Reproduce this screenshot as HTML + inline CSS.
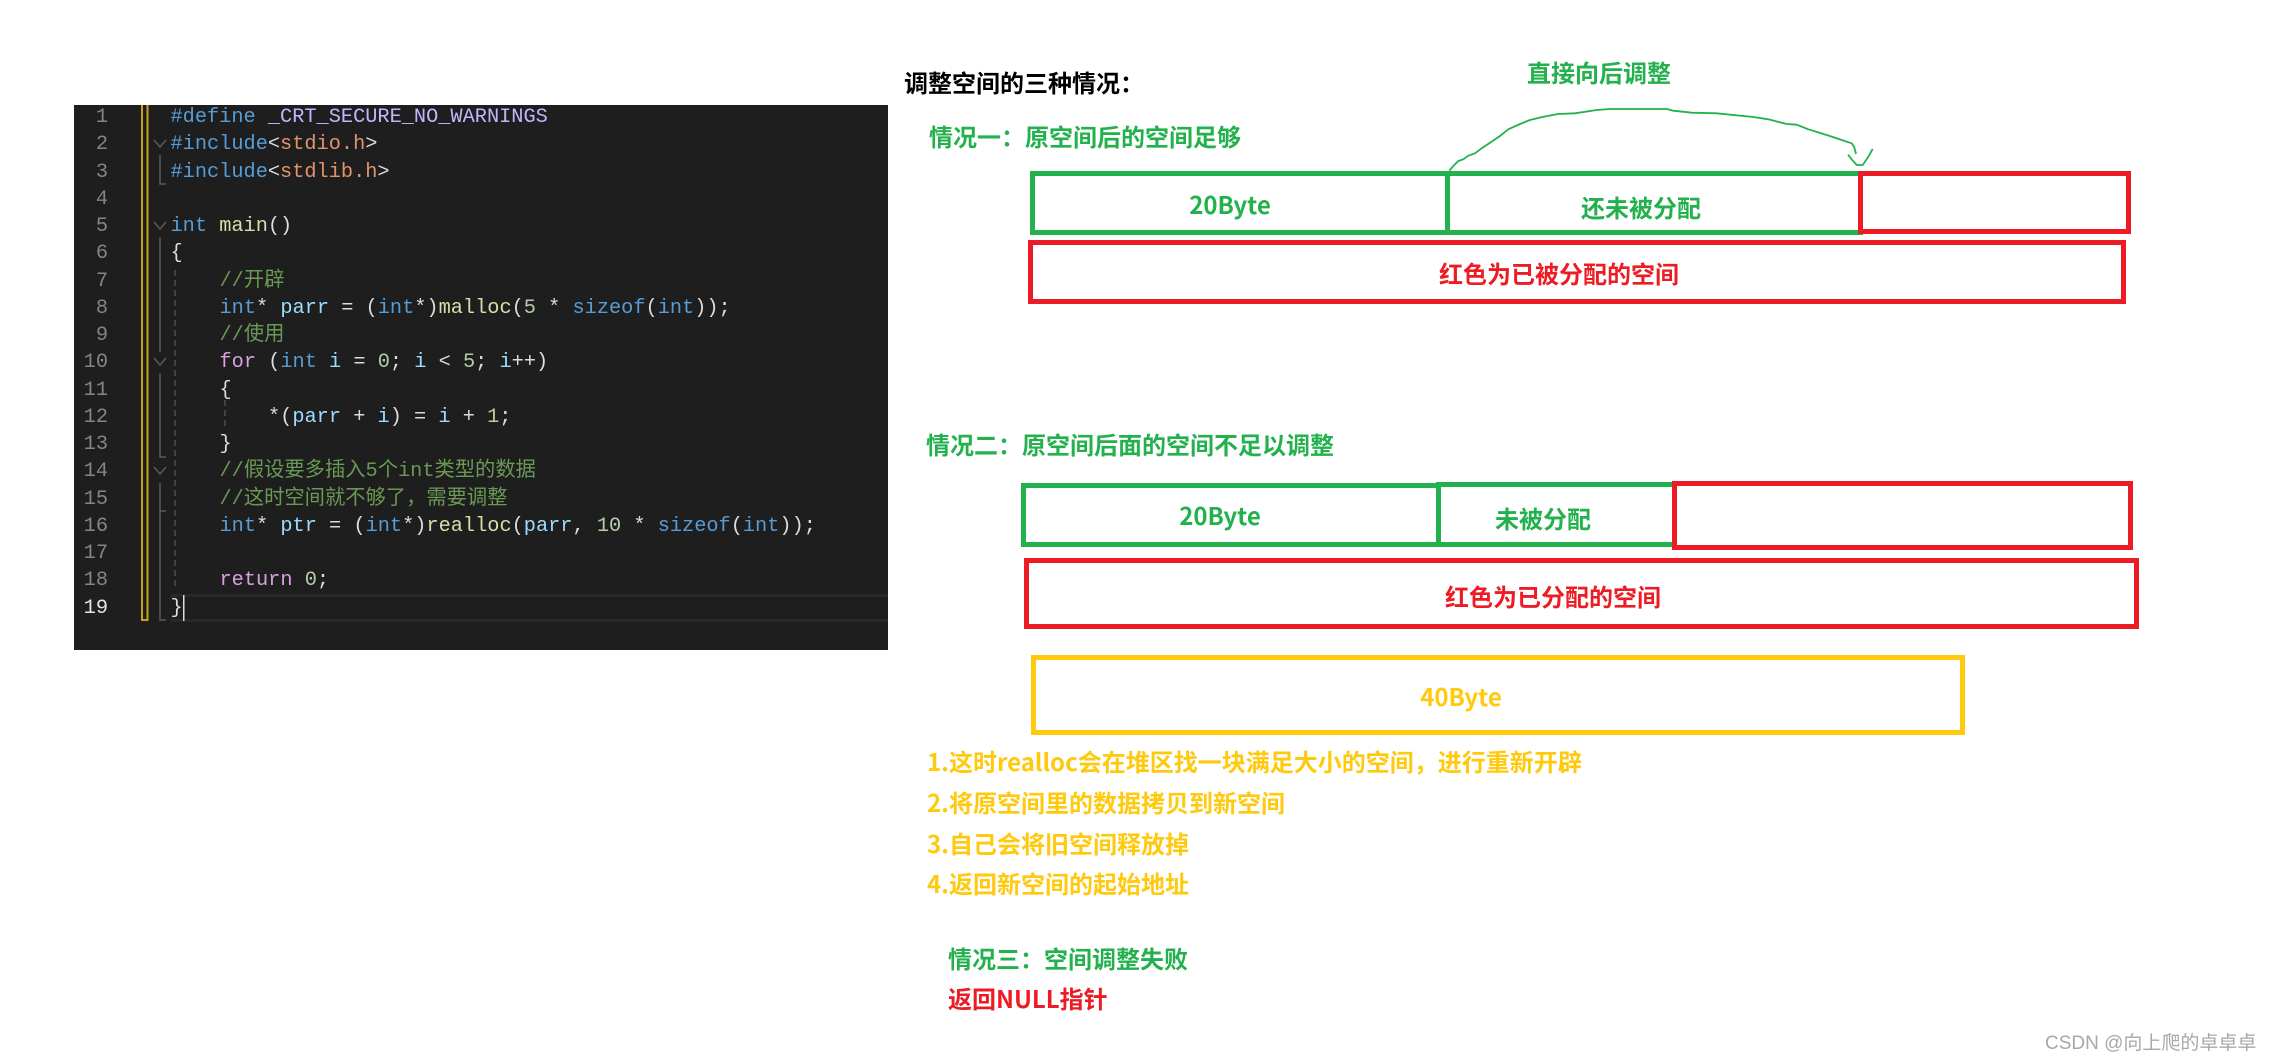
<!DOCTYPE html>
<html lang="zh">
<head>
<meta charset="utf-8">
<title>realloc</title>
<style>
html,body{margin:0;padding:0;background:#fff;width:2272px;height:1061px;overflow:hidden}
svg{display:block}
.c text,.c{font-family:"Liberation Mono","Noto Sans CJK SC",monospace;font-size:20.3px;white-space:pre}
.n{fill:#858585;text-anchor:end}
.k{fill:#569cd6}.m{fill:#beb7ff}.s{fill:#e0936c}.f{fill:#dcdcaa}.v{fill:#9cdcfe}.g{fill:#6a9955}.r{fill:#d8a0df}.u{fill:#b5cea8}.d{fill:#dcdcdc}
.t{font-family:"Noto Sans CJK SC","Liberation Sans",sans-serif;font-size:24px;font-weight:700;white-space:pre}
.gr{fill:#22b14c}.re{fill:#ed1c24}.ye{fill:#ffc90e}.bl{fill:#000}
.box{fill:none;stroke-width:5}
</style>
</head>
<body>
<svg width="2272" height="1061" viewBox="0 0 2272 1061" xmlns="http://www.w3.org/2000/svg">
<rect width="2272" height="1061" fill="#fff"/>

<!-- editor -->
<rect x="74" y="105" width="814" height="545" fill="#1e1e1e"/>
<rect x="171" y="594" width="717" height="3" fill="#282828"/>
<rect x="171" y="619" width="717" height="3" fill="#282828"/>
<path d="M142 105V620H147.500V105" fill="none" stroke="#c8a21f" stroke-width="2"/>
<g fill="none" stroke="#5a5a5a" stroke-width="1.500">
<path d="M160 155V184H166"/>
<path d="M160 237V352"/>
<path d="M160 373V457H166"/>
<path d="M160 483V620H166"/>
<path d="M160 511H166"/>
<path d="M154 140L160 147L166 140"/>
<path d="M154 222L160 229L166 222"/>
<path d="M154 358L160 365L166 358"/>
<path d="M154 467L160 474L166 467"/>
<path d="M175 270V587" stroke-dasharray="6 4" stroke="#4d4d4d"/>
<path d="M225 400V430" stroke-dasharray="6 4" stroke="#4d4d4d"/>
</g>
<rect x="183" y="595" width="1.500" height="26" fill="#dcdcdc"/>

<g class="c">
<text class="n" x="108" y="122">1</text>
<text class="n" x="108" y="149">2</text>
<text class="n" x="108" y="177">3</text>
<text class="n" x="108" y="204">4</text>
<text class="n" x="108" y="231">5</text>
<text class="n" x="108" y="258">6</text>
<text class="n" x="108" y="286">7</text>
<text class="n" x="108" y="313">8</text>
<text class="n" x="108" y="340">9</text>
<text class="n" x="108" y="367">10</text>
<text class="n" x="108" y="395">11</text>
<text class="n" x="108" y="422">12</text>
<text class="n" x="108" y="449">13</text>
<text class="n" x="108" y="476">14</text>
<text class="n" x="108" y="504">15</text>
<text class="n" x="108" y="531">16</text>
<text class="n" x="108" y="558">17</text>
<text class="n" x="108" y="585">18</text>
<text class="n" x="108" y="613" style="fill:#e6e6e6">19</text>

<text x="170.500" y="122"><tspan class="k">#define</tspan> <tspan class="m">_CRT_SECURE_NO_WARNINGS</tspan></text>
<text x="170.500" y="149"><tspan class="k">#include</tspan><tspan class="d">&lt;</tspan><tspan class="s">stdio.h</tspan><tspan class="d">&gt;</tspan></text>
<text x="170.500" y="177"><tspan class="k">#include</tspan><tspan class="d">&lt;</tspan><tspan class="s">stdlib.h</tspan><tspan class="d">&gt;</tspan></text>
<text x="170.500" y="231"><tspan class="k">int</tspan> <tspan class="f">main</tspan><tspan class="d">()</tspan></text>
<text x="170.500" y="258" class="d">{</text>
<text x="219.500" y="286" class="g">//开辟</text>
<text x="219.500" y="313"><tspan class="k">int</tspan><tspan class="d">*</tspan> <tspan class="v">parr</tspan><tspan class="d"> = (</tspan><tspan class="k">int</tspan><tspan class="d">*)</tspan><tspan class="f">malloc</tspan><tspan class="d">(</tspan><tspan class="u">5</tspan><tspan class="d"> * </tspan><tspan class="k">sizeof</tspan><tspan class="d">(</tspan><tspan class="k">int</tspan><tspan class="d">));</tspan></text>
<text x="219.500" y="340" class="g">//使用</text>
<text x="219.500" y="367"><tspan class="r">for</tspan><tspan class="d"> (</tspan><tspan class="k">int</tspan> <tspan class="v">i</tspan><tspan class="d"> = </tspan><tspan class="u">0</tspan><tspan class="d">; </tspan><tspan class="v">i</tspan><tspan class="d"> &lt; </tspan><tspan class="u">5</tspan><tspan class="d">; </tspan><tspan class="v">i</tspan><tspan class="d">++)</tspan></text>
<text x="219.500" y="395" class="d">{</text>
<text x="268" y="422"><tspan class="d">*(</tspan><tspan class="v">parr</tspan><tspan class="d"> + </tspan><tspan class="v">i</tspan><tspan class="d">) = </tspan><tspan class="v">i</tspan><tspan class="d"> + </tspan><tspan class="u">1</tspan><tspan class="d">;</tspan></text>
<text x="219.500" y="449" class="d">}</text>
<text x="219.500" y="476" class="g">//假设要多插入5个int类型的数据</text>
<text x="219.500" y="504" class="g">//这时空间就不够了，需要调整</text>
<text x="219.500" y="531"><tspan class="k">int</tspan><tspan class="d">*</tspan> <tspan class="v">ptr</tspan><tspan class="d"> = (</tspan><tspan class="k">int</tspan><tspan class="d">*)</tspan><tspan class="f">realloc</tspan><tspan class="d">(</tspan><tspan class="v">parr</tspan><tspan class="d">, </tspan><tspan class="u">10</tspan><tspan class="d"> * </tspan><tspan class="k">sizeof</tspan><tspan class="d">(</tspan><tspan class="k">int</tspan><tspan class="d">));</tspan></text>
<text x="219.500" y="585"><tspan class="r">return</tspan> <tspan class="u">0</tspan><tspan class="d">;</tspan></text>
<text x="170.500" y="613" class="d">}</text>
</g>

<!-- case 1 boxes -->
<g class="box" stroke="#22b14c">
<rect x="1032.500" y="173.500" width="415" height="59"/>
<rect x="1447.500" y="173.500" width="413" height="59"/>
</g>
<rect x="1860.500" y="173.500" width="268" height="58" class="box" stroke="#ed1c24"/>
<rect x="1030.500" y="242.500" width="1093" height="59" class="box" stroke="#ed1c24"/>

<!-- arc -->
<path d="M1449.300 170.700L1453.300 166L1458.300 161L1463.300 159.300L1468.300 155.700L1475 153.300L1481.700 148.300L1490 142.700L1500 136L1508.300 129.300L1520 124L1530 120L1543.300 116.700L1558.300 114L1575 113.300L1596.700 110L1610 109L1666.700 109L1673.300 110.700L1691.700 112.700L1716.700 113.300L1753.300 117L1768.300 119.300L1786.700 124L1796.700 124.700L1808.300 129.300L1826.700 135L1841.700 140L1851.700 143.300L1854.300 147.300L1856 154" fill="none" stroke="#22b14c" stroke-width="1.800" stroke-linejoin="round"/>
<path d="M1848 154.700L1851.700 159.300L1856.700 165L1862.700 165L1868.300 156.700L1872.700 149" fill="none" stroke="#22b14c" stroke-width="1.800" stroke-linejoin="round"/>

<!-- case 2 boxes -->
<g class="box" stroke="#22b14c">
<rect x="1023.500" y="485.500" width="415" height="59"/>
<rect x="1438.500" y="484.500" width="236" height="60"/>
</g>
<rect x="1674.500" y="483.500" width="456" height="64" class="box" stroke="#ed1c24"/>
<rect x="1026.500" y="560.500" width="1110" height="66" class="box" stroke="#ed1c24"/>
<rect x="1033.500" y="657.500" width="929" height="75" class="box" stroke="#ffc90e"/>

<!-- labels -->
<g class="t">
<text x="904" y="92" class="bl">调整空间的三种情况：</text>
<text x="1527" y="82" class="gr">直接向后调整</text>
<text x="929" y="146" class="gr">情况一：原空间后的空间足够</text>
<text x="1230" y="214" class="gr" text-anchor="middle">20Byte</text>
<text x="1581" y="217" class="gr">还未被分配</text>
<text x="1439" y="283" class="re">红色为已被分配的空间</text>
<text x="926" y="454" class="gr">情况二：原空间后面的空间不足以调整</text>
<text x="1220" y="525" class="gr" text-anchor="middle">20Byte</text>
<text x="1495" y="528" class="gr">未被分配</text>
<text x="1445" y="606" class="re">红色为已分配的空间</text>
<text x="1461" y="706" class="ye" text-anchor="middle">40Byte</text>
<text x="927" y="771" class="ye">1.这时realloc会在堆区找一块满足大小的空间，进行重新开辟</text>
<text x="927" y="812" class="ye">2.将原空间里的数据拷贝到新空间</text>
<text x="927" y="853" class="ye">3.自己会将旧空间释放掉</text>
<text x="927" y="893" class="ye">4.返回新空间的起始地址</text>
<text x="948" y="968" class="gr">情况三：空间调整失败</text>
<text x="948" y="1008" class="re">返回NULL指针</text>
</g>
<text x="2045" y="1049" style="font-family:'Liberation Sans','Noto Sans CJK SC',sans-serif;font-size:19px;fill:#a8a8a8">CSDN @向上爬的卓卓卓</text>
</svg>
</body>
</html>
